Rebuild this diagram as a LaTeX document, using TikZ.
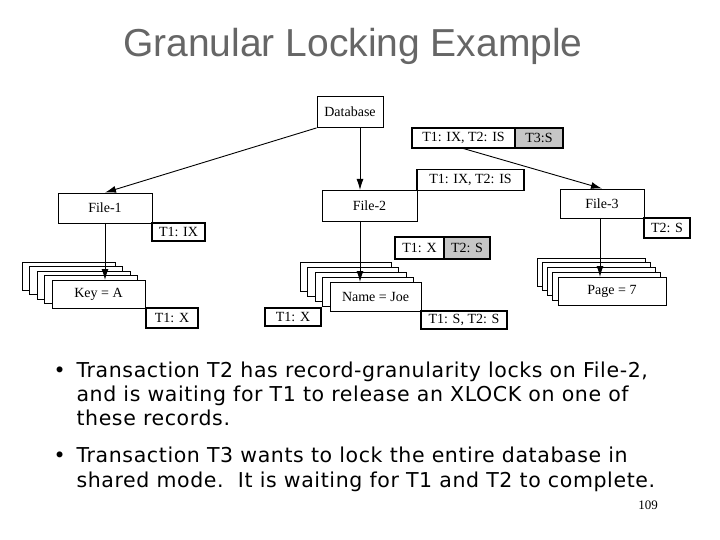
\documentclass[tikz,border=0pt]{standalone}
\usepackage{fontspec}
\setmainfont{Liberation Serif}
\newfontfamily\titlef{Liberation Sans}
\newfontfamily\bodyf[LetterSpace=3]{DejaVu Sans}
\usetikzlibrary{arrows.meta}
\begin{document}
\begin{tikzpicture}[x=1pt,y=-1pt,
  bx/.style={draw,fill=white,line width=0.8pt,inner sep=0pt,font=\fontsize{14}{15}\selectfont},
  lk/.style={draw,fill=white,line width=1.1pt,inner sep=0pt,font=\fontsize{14}{15}\selectfont},
  sh/.style={lk,fill=gray!45},
  arr/.style={-{Latex[length=11pt,width=7pt]},line width=0.9pt}]
\useasboundingbox (0,0) rectangle (720,540);
\node[font=\titlef\fontsize{39}{40}\selectfont,text=gray!80!black] (title) at (353,46) {Granular Locking Example};
% main boxes
\node[bx,minimum width=66pt,minimum height=31pt] (db) at (350,112) {Database};
\node[lk,minimum width=103pt,minimum height=20pt] (l1) at (463.5,138) {T1: IX, T2: IS};
\node[sh,minimum width=48pt,minimum height=20pt] (l1b) at (539,138) {T3:S};
\node[bx,minimum width=94pt,minimum height=30pt] (f1) at (105,208) {File-1};
\node[lk,minimum width=53pt,minimum height=18pt] (f1l) at (178.5,232) {T1: IX};
\node[bx,minimum width=95pt,minimum height=31pt] (f2) at (369.5,205.5) {File-2};
\node[lk,minimum width=107pt,minimum height=21pt] (f2l) at (470.5,180) {T1: IX, T2: IS};
\node[bx,minimum width=84pt,minimum height=29pt] (f3) at (602,203.5) {File-3};
\node[lk,minimum width=46pt,minimum height=20pt] (f3l) at (667,228) {T2: S};
% stacks
\foreach \i in {0,...,3}{
  \draw[fill=white,line width=0.8pt] (22+7.5*\i,262+4.5*\i) rectangle ++(93,28);
  \draw[fill=white,line width=0.8pt] (300+7.5*\i,262+5*\i) rectangle ++(91,29);
  \draw[fill=white,line width=0.8pt] (537+5.25*\i,258+4.75*\i) rectangle ++(108,28);
}
\node[bx,minimum width=93pt,minimum height=28pt] (ka) at (98.5,294) {Key = A};
\node[lk,minimum width=52pt,minimum height=20pt] (kal) at (172,318) {T1: X};
\node[bx,minimum width=91pt,minimum height=29pt] (nj) at (375.5,296.5) {Name = Joe};
\node[lk,minimum width=56pt,minimum height=18pt] (njl) at (293,317) {T1: X};
\node[lk,minimum width=86pt,minimum height=18pt] (njr) at (464,320) {T1: S, T2: S};
\node[lk,minimum width=49pt,minimum height=22pt] (xl) at (419.5,248) {T1: X};
\node[sh,minimum width=46pt,minimum height=22pt] (xr) at (467,248) {T2: S};
\node[bx,minimum width=108pt,minimum height=28pt] (pg) at (612,291) {Page = 7};
% arrows
\coordinate (d2) at (360,127.5);
\coordinate (f2t) at (360,190);
\coordinate (k1) at (105,280);
\coordinate (n1) at (360,282);
\coordinate (p1) at (600,277);
\coordinate (f1b) at (105,223);
\coordinate (f2b) at (360,221);
\coordinate (f3b) at (600,218);
\draw[arr] (db.south west) -- (f1.north);
\draw[arr] (d2) -- (f2t);
\draw[arr] (l1.south) -- (f3.north);
\draw[arr] (f1b) -- (k1);
\draw[arr] (f2b) -- (n1);
\draw[arr] (f3b) -- (p1);
% text
\begin{scope}[font=\bodyf\fontsize{20.5}{24}\selectfont]
\node[anchor=base west] (b1) at (50,377) {•};
\node[anchor=base west] (t1) at (73,377) {Transaction T2 has record-granularity locks on File-2,};
\node[anchor=base west] (t2) at (73,401) {and is waiting for T1 to release an XLOCK on one of};
\node[anchor=base west] (t3) at (73,425) {these records.};
\node[anchor=base west] (b2) at (50,462) {•};
\node[anchor=base west] (t4) at (73,462) {Transaction T3 wants to lock the entire database in};
\node[anchor=base west] (t5) at (73,487) {shared mode.\ \ It is waiting for T1 and T2 to complete.};
\end{scope}
\node[font=\fontsize{13}{14}\selectfont] (pn) at (648,505) {109};
\end{tikzpicture}
\end{document}
